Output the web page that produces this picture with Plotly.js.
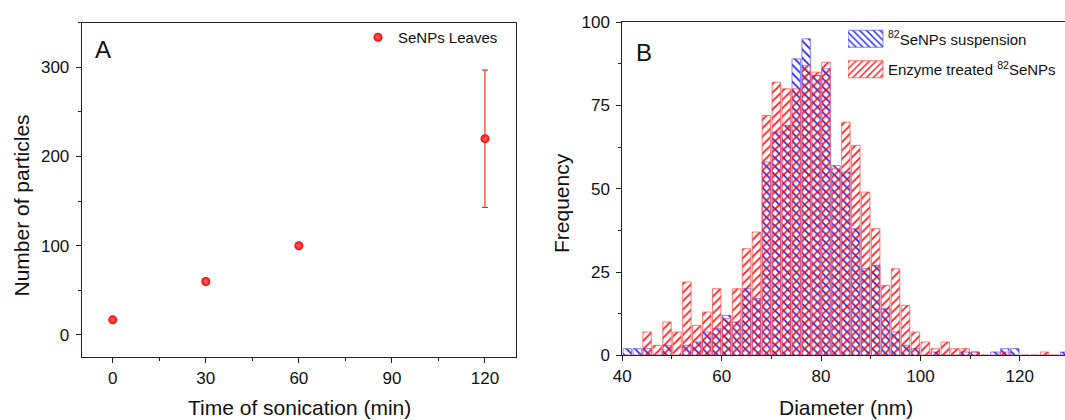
<!DOCTYPE html>
<html>
<head>
<meta charset="utf-8">
<script src="https://cdn.plot.ly/plotly-3.0.1.min.js"></script>
<style>html,body{margin:0;padding:0;background:#fff;}#chart{width:1065px;height:420px;}</style>
</head>
<body>
<div id="chart"></div>
<script>
// Panel A data
const sonicationTime = [0, 30, 60, 120];
const particleCount = [17, 60, 100, 220];
const particleError = [0, 0, 0, 77];

// Panel B data (bin centres, nm)
const diameterBins = [41,43,45,47,49,51,53,55,57,59,61,63,65,67,69,71,73,75,77,79,81,83,85,87,89,91,93,95,97,99,101,103,105,107,109,111,113,115,117,119,121,123,125,127,129];
const freqSuspension = [2,2,2,0,3,0,3,4,7,8,12,10,20,17,58,67,69,89,95,84,86,57,55,38,26,27,14,7,3,2,0,1,0,0,1,1,0,1,2,2,0,0,0,0,1];
const freqEnzyme = [0,0,7,3,10,7,22,9,13,20,11,20,32,37,72,82,80,80,87,85,88,56,70,63,49,38,21,26,15,7,4,2,4,2,2,1,0,0,1,0,0,0,1,0,0];

const W = 1065, H = 420;
const px = x => x / W;
const py = y => 1 - y / H;
const FONT = 'Liberation Sans, Arial, sans-serif';

const traces = [
  {
    type: 'scatter', mode: 'markers', x: sonicationTime, y: particleCount,
    name: 'SeNPs Leaves', xaxis: 'x', yaxis: 'y', legend: 'legend',
    marker: {color: '#ff0000', size: 9, line: {width: 0}, gradient: {type: 'radial', color: '#ff7070'}},
    error_y: {type: 'data', array: particleError, visible: true, color: '#ff0000', thickness: 1, width: 3}
  },
  {
    type: 'bar', x: diameterBins, y: freqSuspension, width: 1.7,
    name: '<sup>82</sup>SeNPs suspension', xaxis: 'x2', yaxis: 'y2', legend: 'legend2',
    marker: {color: 'rgba(0,0,230,0.85)', line: {color: 'rgba(70,70,255,0.65)', width: 1},
             pattern: {shape: '\\', size: 6, solidity: 0.3}}
  },
  {
    type: 'bar', x: diameterBins, y: freqEnzyme, width: 1.7,
    name: 'Enzyme treated <sup>82</sup>SeNPs', xaxis: 'x2', yaxis: 'y2', legend: 'legend3',
    marker: {color: 'rgba(255,0,0,0.9)', line: {color: 'rgba(255,70,70,0.7)', width: 1},
             pattern: {shape: '/', size: 6, solidity: 0.3}}
  }
];

const axBase = {
  showline: true, linecolor: '#222', linewidth: 1, mirror: true,
  ticks: 'outside', ticklen: 5, tickwidth: 1, tickcolor: '#222',
  showgrid: false, zeroline: false, fixedrange: true,
  tickfont: {family: FONT, size: 17, color: '#111'}
};

const legendBase = {
  xanchor: 'left', yanchor: 'top', bgcolor: 'rgba(0,0,0,0)', borderwidth: 0,
  font: {family: FONT, size: 15, color: '#111'}
};

const layout = {
  width: W, height: H,
  margin: {l: 0, r: 0, t: 0, b: 0},
  paper_bgcolor: '#fff', plot_bgcolor: '#fff',
  font: {family: FONT, color: '#111'},
  barmode: 'overlay',
  showlegend: true,
  xaxis: Object.assign({}, axBase, {
    domain: [px(81.7), px(516)], range: [-10, 130], tickmode: 'linear', tick0: 0, dtick: 30,
    minor: {dtick: 15, ticklen: 3, tickcolor: '#222', ticks: 'outside'}, anchor: 'y'
  }),
  yaxis: Object.assign({}, axBase, {
    domain: [py(357.3), py(22.7)], range: [-25, 350], tickmode: 'linear', tick0: 0, dtick: 100,
    minor: {dtick: 50, ticklen: 3, tickcolor: '#222', ticks: 'outside'}, anchor: 'x', ticklabelstandoff: 3
  }),
  xaxis2: Object.assign({}, axBase, {
    domain: [px(622.3), 1], range: [40, 129.1], tickmode: 'linear', tick0: 40, dtick: 20,
    minor: {dtick: 10, ticklen: 3, tickcolor: '#222', ticks: 'outside'}, anchor: 'y2', mirror: true
  }),
  yaxis2: Object.assign({}, axBase, {
    domain: [py(355.3), py(22.2)], range: [0, 100], tickmode: 'linear', tick0: 0, dtick: 25,
    minor: {dtick: 12.5, ticklen: 3, tickcolor: '#222', ticks: 'outside'}, anchor: 'x2', mirror: false, ticklabelstandoff: 3
  }),
  legend: Object.assign({}, legendBase, {x: px(358), y: py(21)}),
  legend2: Object.assign({}, legendBase, {x: px(848), y: py(22.5)}),
  legend3: Object.assign({}, legendBase, {x: px(848), y: py(53)}),
  annotations: [
    {text: 'A', x: px(93), y: py(49), xref: 'paper', yref: 'paper', xanchor: 'left', yanchor: 'middle', showarrow: false, font: {family: FONT, size: 24, color: '#111'}},
    {text: 'B', x: px(634), y: py(52), xref: 'paper', yref: 'paper', xanchor: 'left', yanchor: 'middle', showarrow: false, font: {family: FONT, size: 24, color: '#111'}},
    {text: 'Number of particles', x: px(20.5), y: py(206), xref: 'paper', yref: 'paper', xanchor: 'center', yanchor: 'middle', textangle: -90, showarrow: false, font: {family: FONT, size: 21, color: '#111'}},
    {text: 'Time of sonication (min)', x: px(299), y: py(394), xref: 'paper', yref: 'paper', xanchor: 'center', yanchor: 'top', showarrow: false, font: {family: FONT, size: 21, color: '#111'}},
    {text: 'Frequency', x: px(561), y: py(203), xref: 'paper', yref: 'paper', xanchor: 'center', yanchor: 'middle', textangle: -90, showarrow: false, font: {family: FONT, size: 21, color: '#111'}},
    {text: 'Diameter (nm)', x: px(846), y: py(394), xref: 'paper', yref: 'paper', xanchor: 'center', yanchor: 'top', showarrow: false, font: {family: FONT, size: 21, color: '#111'}}
  ]
};

Plotly.newPlot('chart', traces, layout, {displayModeBar: false, staticPlot: true}).then(function (gd) {
  // widen the bar swatches of panel B's legends to match the reference's wide hatched boxes
  try {
    const paths = gd.querySelectorAll('g.legend2 .legendpoints path, g.legend3 .legendpoints path');
    paths.forEach(function (p) { p.setAttribute('d', 'M15,8.5H-20V-8.5H15Z'); });
  } catch (e) {}
});
</script>
</body>
</html>
